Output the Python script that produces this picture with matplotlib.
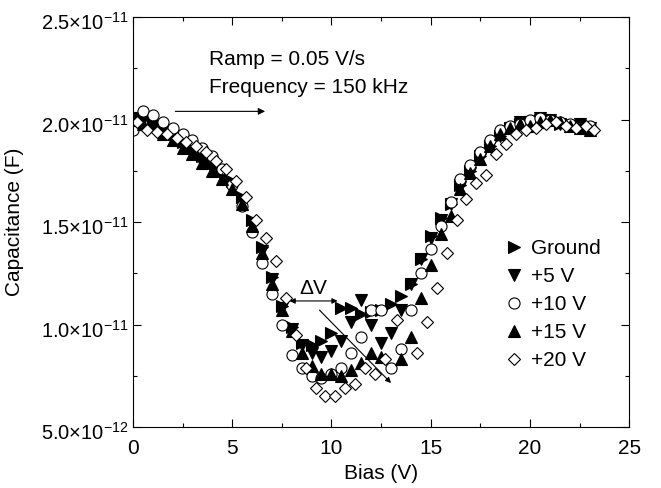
import numpy as np
import matplotlib
matplotlib.use("Agg")
import matplotlib.pyplot as plt
from matplotlib.ticker import MultipleLocator, NullFormatter
from matplotlib.transforms import ScaledTranslation

plt.rcParams['font.family'] = ['Liberation Sans', 'DejaVu Sans']
plt.rcParams['mathtext.fontset'] = 'custom'
plt.rcParams['mathtext.rm'] = 'Liberation Sans'
plt.rcParams['mathtext.it'] = 'Liberation Sans'

nan = np.nan

# bias sweep (V)
bias = [0.0, 0.5, 1.0, 1.5, 2.0, 2.5, 3.0, 3.5, 4.0, 4.5, 5.0, 5.5, 6.0, 6.5, 7.0, 7.5,
        8.0, 8.5, 9.0, 9.5, 10.0, 10.5, 11.0, 11.5, 12.0, 12.5, 13.0, 13.5, 14.0, 14.5,
        15.0, 15.5, 16.0, 16.5, 17.0, 17.5, 18.0, 18.5, 19.0, 19.5, 20.0, 20.5, 21.0,
        21.5, 22.0, 22.5, 23.0]
# the +20 V sweep sits a little to the right
bias_20v = [0.2, 0.7, 1.2, 1.7, 2.2, 2.7, 3.2, 3.7, 4.2, 4.7, 5.2, 5.7, 6.2, 6.7, 7.2, 7.7,
            8.2, 8.7, 9.2, 9.7, 10.2, 10.7, 11.2, 11.7, 12.2, 12.7, 13.3, 13.8, 14.3, 14.8,
            15.3, 15.8, 16.3, 16.8, 17.3, 17.8, 18.3, 18.8, 19.3, 19.8, 20.3, 20.8, 21.3,
            21.8, 22.3, 22.8, 23.2]

# capacitance in units of 1e-12 F
c_ground = [20.0, 20.1, 19.8, 19.6, 19.3, 18.9, 18.6, 18.2, 17.9, 17.5, 17.0, 16.2, 15.1, 13.8, 12.3, 10.9,
            9.9, 9.1, 9.0, 9.2, 9.6, 10.8, 10.8, 10.5, 10.6, 10.7, 11.0, 11.4, 12.0, 13.2,
            14.3, 15.2, 15.9, 16.8, 17.5, 18.2, 18.7, 19.2, 19.6, 19.8, 19.8, 20.0, 19.9,
            19.8, 19.8, 19.7, 19.6]
c_5v = [20.1, 20.0, 19.7, 19.4, 19.0, 18.6, 18.3, 17.9, 17.6, 17.2, 16.8, 16.0, 14.9, 13.6, 12.2, 10.8,
        9.8, 9.0, 8.6, 8.4, 8.7, 9.2, 10.1, 11.2, 10.0, 9.1, 9.6, 10.7, 12.0, 13.2,
        14.2, 15.1, 15.9, 16.7, 17.4, 18.1, 18.7, 19.2, 19.6, 19.9, 19.9, 20.1, 20.0,
        19.8, 19.7, 19.8, 19.6]
c_10v = [19.5, 20.4, 20.2, 19.9, 19.6, 19.3, 19.0, 18.6, 18.2, 17.6, 16.8, 15.8, 14.5, 13.0, 11.5, 10.0,
         8.5, 7.9, 7.5, 7.4, 7.6, 7.9, 8.6, 9.4, 10.7, 10.7, 7.9, 8.8, 10.7, 12.5,
         13.7, 14.8, 16.0, 17.1, 17.8, 18.4, 19.0, 19.5, 19.7, 19.8, 20.0, 20.1, 20.0,
         19.9, 19.8, 19.6, 19.7]
c_15v = [20.0, 19.8, 19.7, 19.3, 19.0, 18.6, 18.3, 17.9, 17.5, 17.1, 16.6, 15.9, 14.8, 13.5, 12.0, 10.7,
         9.7, 8.6, 8.0, 7.6, 7.6, 7.5, 7.8, 8.1, 8.6, 8.4, nan, 8.3, 9.4, 11.3,
         12.9, 14.4, 15.3, 16.6, 17.4, 18.1, 18.7, 19.3, 19.6, 19.8, 19.7, 19.9, 20.0,
         19.9, 19.7, 19.6, 19.5]
c_20v = [19.9, 19.5, 19.4, 19.3, 19.1, 18.9, 18.7, 18.4, 18.0, 17.6, 17.0, 16.2, 15.1, 14.2, 13.1, 11.3,
         9.5, 7.9, 6.9, 6.5, 6.5, 6.9, 7.1, 7.9, 7.6, 8.3, 10.2, nan, 8.6, 10.1,
         11.8, 13.5, 15.1, 16.1, 16.9, 17.3, 18.3, 18.8, 19.3, 19.5, 19.6, 19.8, 19.9,
         19.7, 19.6, 19.7, 19.5]

labels = ['Ground', '+5 V', '+10 V', '+15 V', '+20 V']

y_ticks = [5e-12, 1e-11, 1.5e-11, 2e-11, 2.5e-11]
y_tick_labels = [r'$5.0{\times}10^{-12}$', r'$1.0{\times}10^{-11}$', r'$1.5{\times}10^{-11}$',
                 r'$2.0{\times}10^{-11}$', r'$2.5{\times}10^{-11}$']

fig = plt.figure(figsize=(6.61, 4.88), dpi=100)
ax = fig.add_axes([0.201, 0.125, 0.751, 0.840])

styles = [('>', 'black'), ('v', 'black'), ('o', 'white'), ('^', 'black'), ('D', 'white')]
series = [c_ground, c_5v, c_10v, c_15v, c_20v]
xs = [bias, bias, bias, bias, bias_20v]
for x, c, lab, (m, fc) in zip(xs, series, labels, styles):
    ms = 6.3 if m == 'D' else 8
    ax.plot(np.array(x), np.array(c) * 1e-12, ls='none', marker=m, ms=ms, mfc=fc,
            mec='black', mew=0.8, label=lab)

# annotations
ax.text(3.85, 22.65e-12, 'Ramp = 0.05 V/s', fontsize=15)
ax.text(3.85, 21.3e-12, 'Frequency = 150 kHz', fontsize=15)
ax.annotate('', xy=(6.8, 20.4e-12), xytext=(2.0, 20.4e-12),
            arrowprops=dict(arrowstyle='-|>', color='black', lw=0.8, mutation_scale=10))
ax.annotate('', xy=(10.45, 11.15e-12), xytext=(7.75, 11.15e-12),
            arrowprops=dict(arrowstyle='<|-|>', color='black', lw=0.8, mutation_scale=8))
ax.text(9.1, 11.5e-12, r'$\Delta$V', fontsize=15, ha='center', va='baseline')
ax.annotate('', xy=(13.1, 7.05e-12), xytext=(9.3, 10.8e-12),
            arrowprops=dict(arrowstyle='-|>', color='black', lw=0.8, mutation_scale=8))

ax.set_xlim(0, 25)
ax.set_ylim(5e-12, 2.5e-11)
ax.xaxis.set_major_locator(MultipleLocator(5))
ax.xaxis.set_minor_locator(MultipleLocator(2.5))
ax.set_yticks(y_ticks)
ax.yaxis.set_minor_locator(MultipleLocator(2.5e-12))
ax.yaxis.set_major_formatter(NullFormatter())

# y tick labels drawn as texts, a few pixels below their ticks
ylab_tf = ax.get_yaxis_transform() + ScaledTranslation(-4 / 100, -4 / 100, fig.dpi_scale_trans)
for v, t in zip(y_ticks, y_tick_labels):
    ax.text(0, v, t, transform=ylab_tf, ha='right', va='center_baseline', fontsize=14.5,
            clip_on=False)

ax.tick_params(which='both', direction='in', top=True, right=True)
ax.tick_params(axis='x', labelsize=15, pad=9)
ax.tick_params(which='major', length=6, width=0.8)
ax.tick_params(which='minor', length=3, width=0.8)
for s in ax.spines.values():
    s.set_linewidth(0.8)

ax.set_xlabel('Bias (V)', fontsize=15, labelpad=4)
ax.set_ylabel('Capacitance (F)', fontsize=15)
ax.yaxis.set_label_coords(-0.22, 0.5)

ax.legend(loc='upper left', bbox_to_anchor=(0.73, 0.478), frameon=False, fontsize=15,
          handletextpad=0.3, labelspacing=0.43, handlelength=1.0, borderaxespad=0)

fig.savefig('out.png', dpi=100)
